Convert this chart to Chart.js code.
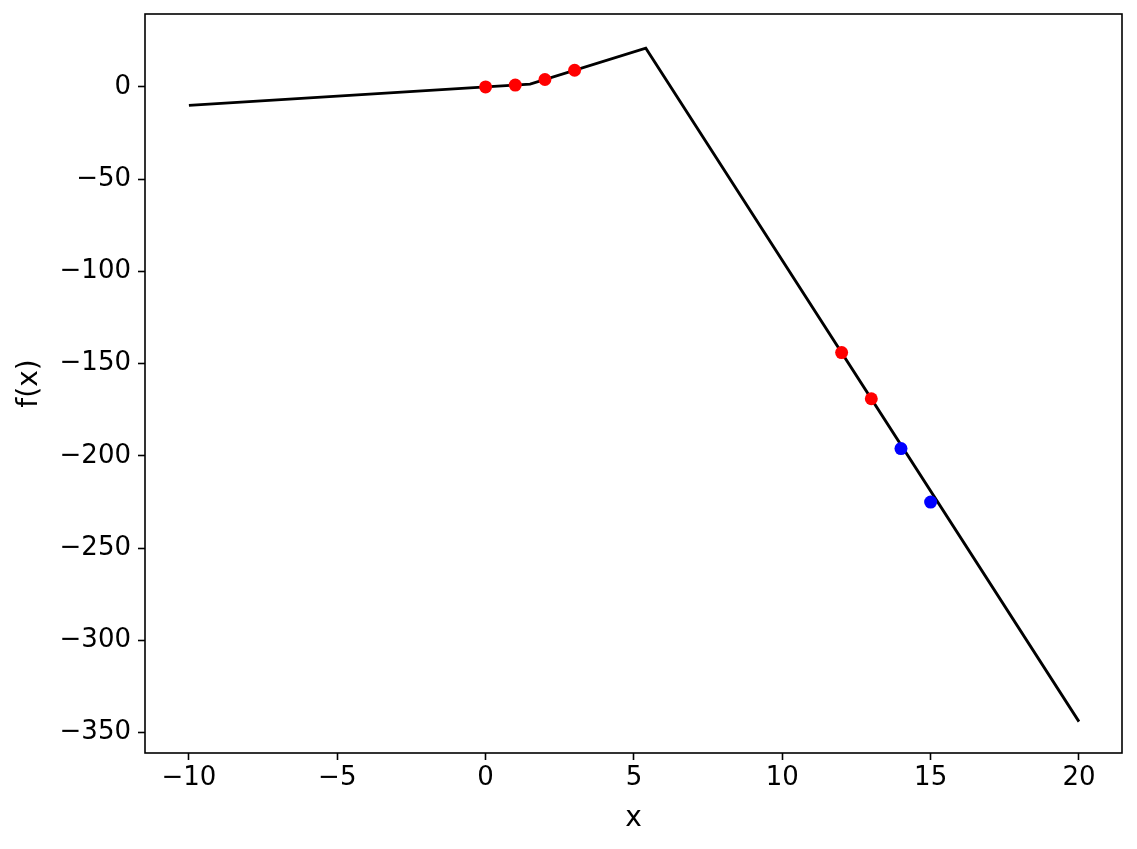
<!DOCTYPE html>
<html>
<head>
<meta charset="utf-8">
<script src="https://cdn.jsdelivr.net/npm/chart.js@4"></script>
<style>
  html, body { margin: 0; padding: 0; background: #fff; }
  #wrap { width: 1137px; height: 849px; }
</style>
</head>
<body>
<div id="wrap"><canvas id="fxChart" width="1137" height="849"></canvas></div>
<script>
// fitted curve vertices
const lineX = [-10, 1.5, 5.4, 20];
const lineY = [-10, 1.5, 21, -344];

// sample points
const redX = [0, 1, 2, 3, 12, 13];
const redY = [0, 1, 4, 9, -144, -169];
const blueX = [14, 15];
const blueY = [-196, -225];

// tick labels
const xTicks = [-10, -5, 0, 5, 10, 15, 20];
const yTicks = [-350, -300, -250, -200, -150, -100, -50, 0];

const toPoints = (xs, ys) => xs.map((x, i) => ({ x: x, y: ys[i] }));
const fmt = v => String(v).replace('-', '\u2212');

// draw the box round the plot area like matplotlib spines
const framePlugin = {
    id: 'frame',
    afterDraw(chart) {
        const a = chart.chartArea;
        const c = chart.ctx;
        c.save();
        c.strokeStyle = '#000';
        c.lineWidth = 1.6;
        c.strokeRect(a.left, a.top, a.right - a.left, a.bottom - a.top);
        c.restore();
    }
};

const ctx = document.getElementById('fxChart').getContext('2d');
Chart.defaults.font.family = "'DejaVu Sans', sans-serif";
Chart.defaults.color = '#000';

new Chart(ctx, {
    type: 'scatter',
    data: {
        datasets: [
            {
                data: toPoints(lineX, lineY),
                showLine: true,
                borderColor: '#000',
                borderWidth: 2.8,
                pointRadius: 0,
                order: 3
            },
            {
                data: toPoints(redX, redY),
                backgroundColor: '#ff0000',
                borderWidth: 0,
                pointRadius: 6.5,
                order: 2
            },
            {
                data: toPoints(blueX, blueY),
                backgroundColor: '#0000ff',
                borderWidth: 0,
                pointRadius: 6.5,
                order: 1
            }
        ]
    },
    options: {
        responsive: false,
        animation: false,
        layout: { padding: { left: 0, right: 15, top: 14, bottom: 0 } },
        plugins: {
            legend: { display: false },
            tooltip: { enabled: false }
        },
        scales: {
            x: {
                type: 'linear',
                min: -11.48,
                max: 21.45,
                afterBuildTicks: axis => { axis.ticks = xTicks.map(v => ({ value: v })); },
                afterFit: axis => {
                    axis.height = 96;
                    axis.paddingLeft = 0;
                    axis.paddingRight = 0;
                },
                border: { display: false },
                grid: { drawOnChartArea: false, drawTicks: true, tickLength: 7, color: '#000', tickWidth: 1.6 },
                ticks: { font: { size: 26 }, padding: 3, maxRotation: 0, callback: fmt },
                title: { display: true, text: 'x', font: { size: 28 }, padding: { top: 0, bottom: 13 } }
            },
            y: {
                type: 'linear',
                min: -361,
                max: 39.5,
                afterBuildTicks: axis => { axis.ticks = yTicks.map(v => ({ value: v })); },
                afterFit: axis => {
                    axis.width = 145;
                    axis.paddingTop = 0;
                    axis.paddingBottom = 0;
                },
                border: { display: false },
                grid: { drawOnChartArea: false, drawTicks: true, tickLength: 7, color: '#000', tickWidth: 1.6 },
                ticks: { font: { size: 26 }, padding: 7, callback: fmt },
                title: { display: true, text: 'f(x)', font: { size: 28 }, padding: { top: 13, bottom: 0 } }
            }
        }
    },
    plugins: [framePlugin]
});
</script>
</body>
</html>
